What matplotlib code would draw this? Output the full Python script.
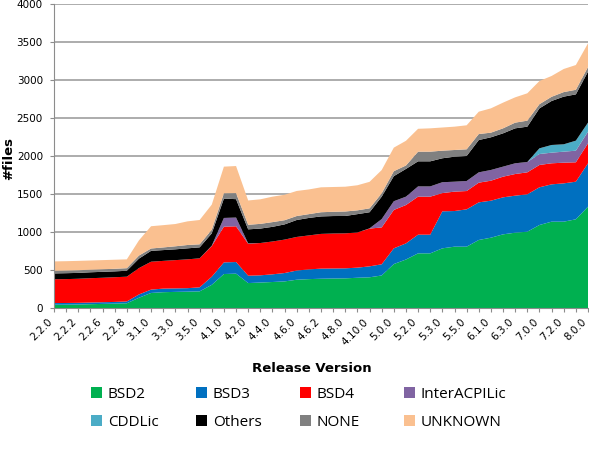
import numpy as np
import matplotlib
matplotlib.use('Agg')
import matplotlib.pyplot as plt
import matplotlib.transforms as mtransforms
from matplotlib.patches import Patch

# versoes (so as de indice par aparecem no eixo)
versions = ['2.2.0', '2.2.1', '2.2.2', '2.2.5', '2.2.6', '2.2.7', '2.2.8', '3.0.0',
            '3.1.0', '3.2.0', '3.3.0', '3.4.0', '3.5.0', '4.0.0', '4.1.0', '4.1.1',
            '4.2.0', '4.3.0', '4.4.0', '4.5.0', '4.6.0', '4.6.1', '4.6.2', '4.7.0',
            '4.8.0', '4.9.0', '4.10.0', '4.11.0', '5.0.0', '5.1.0', '5.2.0', '5.2.1',
            '5.3.0', '5.4.0', '5.5.0', '6.0.0', '6.1.0', '6.2.0', '6.3.0', '6.4.0',
            '7.0.0', '7.1.0', '7.2.0', '7.3.0', '8.0.0']

bsd2 = [43, 44, 46, 50, 54, 58, 62, 135, 198, 208, 212, 215, 219, 305, 447, 452,
        328, 335, 342, 350, 372, 380, 385, 388, 390, 398, 404, 428, 578, 638, 719, 719,
        785, 807, 807, 895, 925, 969, 991, 1004, 1092, 1136, 1136, 1167, 1333]
bsd3 = [22, 22, 22, 22, 22, 22, 24, 43, 44, 47, 46, 46, 53, 107, 153, 153,
        97, 95, 101, 110, 121, 128, 133, 132, 132, 133, 144, 147, 207, 212, 246, 246,
        487, 469, 491, 495, 487, 487, 487, 492, 496, 491, 504, 495, 571]
bsd4 = [313, 314, 317, 320, 322, 325, 326, 347, 367, 365, 372, 379, 382, 403, 470, 470,
        420, 425, 432, 440, 442, 447, 457, 460, 460, 463, 497, 485, 505, 505, 500, 500,
        240, 255, 241, 259, 263, 272, 285, 289, 294, 277, 272, 255, 263]
interacpi = [0, 0, 0, 0, 0, 0, 0, 0, 0, 0, 0, 0, 0, 5, 115, 115,
             5, 0, 0, 0, 0, 0, 0, 0, 0, 0, 3, 110, 115, 110, 135, 135,
             143, 131, 132, 136, 141, 132, 141, 136, 144, 140, 145, 153, 153]
cddl = [0] * 40 + [75, 101, 97, 132, 119]
others = [77, 78, 77, 78, 78, 77, 78, 125, 143, 142, 142, 145, 144, 162, 255, 242,
          185, 190, 193, 200, 223, 230, 230, 230, 229, 241, 212, 295, 330, 365, 330, 330,
          315, 329, 329, 425, 430, 438, 460, 465, 526, 579, 627, 609, 671]
none = [35, 35, 35, 34, 34, 34, 34, 40, 31, 35, 40, 44, 40, 48, 70, 80,
        60, 62, 62, 55, 52, 50, 55, 56, 59, 50, 51, 44, 65, 45, 127, 127,
        100, 88, 88, 79, 61, 66, 75, 79, 55, 55, 60, 60, 60]
unknown = [123, 123, 123, 121, 120, 119, 116, 200, 293, 293, 293, 311, 320, 330, 350, 356,
           320, 323, 335, 335, 330, 325, 328, 326, 326, 330, 349, 306, 310, 325, 301, 307,
           305, 307, 316, 294, 320, 338, 333, 360, 305, 274, 304, 326, 312]

names = ['BSD2', 'BSD3', 'BSD4', 'InterACPILic', 'CDDLic', 'Others', 'NONE', 'UNKNOWN']
colors = ['#00B050', '#0070C0', '#FF0000', '#8064A2', '#4BACC6', '#000000', '#808080', '#FAC090']
series = [bsd2, bsd3, bsd4, interacpi, cddl, others, none, unknown]

fig = plt.figure(figsize=(5.89, 4.74), dpi=100)
ax = fig.add_axes([54 / 589, 1 - 308 / 474, 534 / 589, 304 / 474])

x = np.arange(len(versions))
ax.stackplot(x, series, colors=colors, linewidth=0)

ax.set_xlim(0, len(versions) - 1)
ax.set_ylim(0, 4000)
ax.set_yticks(range(0, 4001, 500))
ax.yaxis.grid(True, color='#a6a6a6', linewidth=1.3)
ax.set_axisbelow(True)

ax.set_xticks(x)
ax.set_xticklabels([v if i % 2 == 0 else '' for i, v in enumerate(versions)],
                   rotation=45, ha='right', va='center', rotation_mode='anchor',
                   fontsize=7.5)
ax.tick_params(axis='x', length=3, color='#8c8c8c', pad=6)
ax.tick_params(axis='y', length=3, color='#8c8c8c', labelsize=7.5, pad=5)

for s in ['top', 'right']:
    ax.spines[s].set_visible(False)
for s in ['left', 'bottom']:
    ax.spines[s].set_color('#8c8c8c')

ax.set_xlabel('Release Version', fontsize=9.5, fontweight='bold')
ax.xaxis.set_label_coords((312 - 54) / 534, -(362 - 308) / 304)
ax.set_ylabel('#files', fontsize=9.5, fontweight='bold')
ax.yaxis.set_label_coords((15 - 54) / 534, (308 - 158) / 304)

# legenda: uma coluna por vez, espacamento fixo como no Excel
col_x = [91, 196, 300, 404]
for j in range(4):
    idx = [j, j + 4]
    hs = [Patch(facecolor=colors[i], edgecolor='none') for i in idx]
    fig.legend(hs, [names[i] for i in idx], loc='upper left',
               bbox_to_anchor=(col_x[j] / 589, 1 - 387 / 474),
               frameon=False, handlelength=0.7, handleheight=0.7,
               handletextpad=0.4, labelspacing=0.85, borderpad=0, borderaxespad=0,
               prop={'family': 'Open Sans', 'size': 11})

# desenhar uma vez para os ticks existirem, depois puxar os rotulos pra esquerda
fig.canvas.draw()
offset = mtransforms.ScaledTranslation(-3 / 100, 0, fig.dpi_scale_trans)
for lbl in ax.get_xticklabels():
    lbl.set_transform(lbl.get_transform() + offset)

fig.savefig('out.png', dpi=100)
